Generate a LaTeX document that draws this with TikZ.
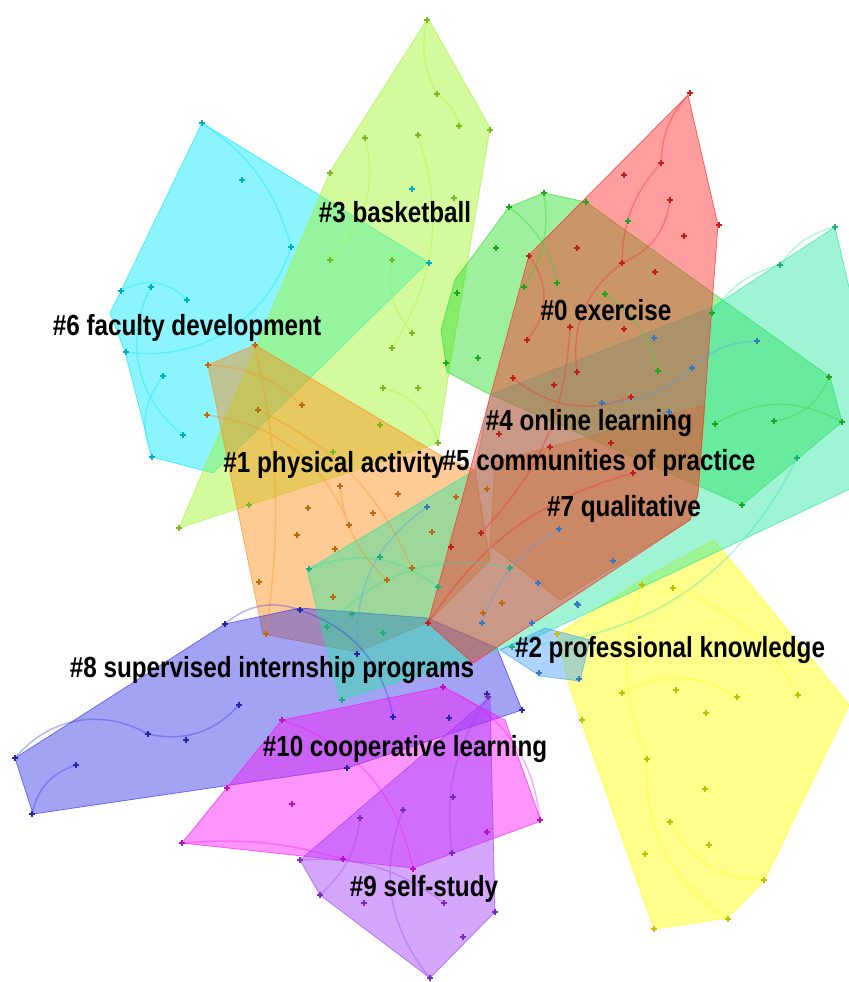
\documentclass[tikz,border=0pt]{standalone}
\usepackage{fontspec}
\setmainfont{Liberation Sans}
\usepackage{graphicx}
\usetikzlibrary{positioning}
\usetikzlibrary{math}

\definecolor{clred}{RGB}{255,40,40}
\definecolor{clorange}{RGB}{255,140,20}
\definecolor{clyellow}{RGB}{255,255,0}
\definecolor{cllime}{RGB}{160,245,40}
\definecolor{clgreen}{RGB}{40,220,40}
\definecolor{clmint}{RGB}{40,230,160}
\definecolor{clcyan}{RGB}{0,230,255}
\definecolor{cllblue}{RGB}{70,160,255}
\definecolor{clblue}{RGB}{50,50,230}
\definecolor{clpurple}{RGB}{160,60,250}
\definecolor{clmagenta}{RGB}{250,20,250}

% label text, a bit taller than wide
\newcommand{\cllabel}[1]{\scalebox{1}[1.2]{#1}}

\tikzset{
  hull/.style={fill=#1, fill opacity=0.45, draw=#1, draw opacity=0.7,
    line width=0.6pt, line join=round},
  link/.style={draw=#1, draw opacity=0.35, line width=1.3pt},
  cross/.style={draw=#1!75!black, line width=1.3pt},
  lbl/.style={font=\bfseries\fontsize{20.7}{24}\selectfont, inner sep=0pt}
}

\begin{document}
\begin{tikzpicture}[x=0.03cm, y=-0.03cm]

  \tikzmath{
    \arm = 3; % half length of a node cross
  }

  \useasboundingbox (0,0) rectangle (849,982);

  % cluster hulls
  \draw[hull=clcyan] (202,123) -- (428,262) -- (213,473) -- (152,457)
    -- (125,352) -- (110,313) -- (121,291) -- cycle;
  \draw[hull=cllime] (428,18) -- (490,128) -- (450,365) -- (438,443)
    -- (179,528) -- (330,172) -- cycle;
  \draw[hull=clgreen] (509,207) -- (544,193) -- (586,202) -- (830,377)
    -- (842,422) -- (742,505) -- (487,393) -- (447,372) -- (441,330)
    -- (455,280) -- cycle;
  \draw[hull=clyellow] (557,634) -- (644,578) -- (714,540) -- (849,705)
    -- (764,881) -- (727,918) -- (654,929) -- (581,721) -- (567,678) -- cycle;
  \draw[hull=clorange] (208,365) -- (255,345) -- (445,458) -- (475,470)
    -- (490,560) -- (427,623) -- (357,652) -- (263,634) -- cycle;
  \draw[hull=clorange] (495,462) -- (705,405) -- (698,495) -- (690,520)
    -- (560,600) -- (490,545) -- cycle;
  \draw[hull=clblue] (15,758) -- (33,814) -- (347,768) -- (522,710)
    -- (497,648) -- (427,618) -- (300,608) -- (225,624) -- cycle;
  \draw[hull=clmint] (835,227) -- (852,300) -- (852,488) -- (530,640)
    -- (340,700) -- (307,570) -- (475,470) -- (490,395) -- (713,307) -- cycle;
  \draw[hull=clred] (688,95) -- (718,225) -- (698,493) -- (690,520)
    -- (473,663) -- (428,623) -- (529,255) -- cycle;
  \draw[hull=cllblue] (500,650) -- (540,676) -- (580,681) -- (590,640)
    -- (545,628) -- cycle;
  \draw[hull=clmagenta] (182,843) -- (282,720) -- (443,687) -- (505,720)
    -- (541,821) -- (413,868) -- cycle;
  \draw[hull=clpurple] (300,860) -- (320,895) -- (430,978) -- (495,912)
    -- (490,697) -- cycle;

  % co-citation links
  \draw[link=cllime] (427,20) to[bend right=20] (437,94) to[bend left=20] (459,126)
    (365,138) to[bend left=30] (330,260) (418,135) to[bend left=25] (392,348)
    (392,260) to[bend right=25] (412,333) (383,388) to[bend left=30] (438,443);
  \draw[link=clcyan] (202,123) to[bend left=20] (291,247) to[bend left=40] (126,352)
    (121,291) to[bend left=40] (187,300) (163,376) to[bend right=30] (152,457)
    (151,287) to[bend right=40] (183,435);
  \draw[link=clred] (690,93) to[bend right=20] (661,163) to[bend right=20] (622,263)
    (670,200) to[bend left=30] (622,263) to[bend right=30] (577,372)
    (529,256) to[bend left=40] (527,340) (513,378) to[bend right=30] (631,397)
    (428,623) to[bend left=20] (633,473) (481,533) to[bend right=20] (570,327);
  \draw[link=clgreen] (509,207) to[bend left=20] (557,283) (544,193) to[bend left=20] (524,287)
    (605,294) to[bend left=20] (658,371) (715,424) to[bend left=30] (842,422)
    (774,421) to[bend right=30] (829,377);
  \draw[link=clmint] (835,227) to[bend right=20] (780,265) to[bend right=20] (713,312)
    (309,569) to[bend left=30] (438,587) (327,627) to[bend left=30] (510,568)
    (512,647) to[bend right=30] (797,458);
  \draw[link=clorange] (208,365) to[bend left=20] (302,405) (255,345) to[bend left=10] (266,634)
    (258,410) to[bend left=20] (412,568) (340,486) to[bend right=20] (387,580)
    (207,415) to[bend left=30] (349,525);
  \draw[link=clblue] (15,758) to[bend left=40] (148,734) to[bend right=30] (239,705)
    (32,814) to[bend left=30] (76,765) (225,624) to[bend left=30] (300,610)
    to[bend left=30] (393,717);
  \draw[link=cllblue] (427,507) to[bend right=30] (358,653) (559,529) to[bend right=20] (482,623)
    (602,403) to[bend right=20] (692,368) to[bend left=20] (757,341);
  \draw[link=clyellow] (642,585) to[bend right=20] (647,759) to[bend right=30] (728,919)
    (673,588) to[bend left=20] (798,695) (622,693) to[bend left=30] (737,697)
    (670,822) to[bend right=30] (764,880);
  \draw[link=clmagenta] (282,720) to[bend left=30] (413,869) (443,687) to[bend left=30] (540,820)
    (182,843) to[bend left=10] (343,859);
  \draw[link=clpurple] (488,697) to[bend right=20] (452,853) (360,818) to[bend left=20] (320,895)
    (403,810) to[bend right=30] (430,978) (300,860) to[bend left=20] (444,903);

  % member nodes
  \foreach \p in {(427,20),(437,94),(459,126),(490,130),(454,198),(365,138),
      (418,135),(330,173),(330,260),(392,260),(412,333),(392,348),(383,388),
      (418,388),(380,425),(333,452),(438,443),(249,505),(179,528)}
    \draw[cross=cllime] \p +(-\arm,0) -- +(\arm,0) +(0,-\arm) -- +(0,\arm);
  \foreach \p in {(202,123),(242,180),(291,247),(412,189),(429,263),(121,291),
      (151,287),(187,300),(126,352),(163,376),(183,435),(152,457)}
    \draw[cross=clcyan] \p +(-\arm,0) -- +(\arm,0) +(0,-\arm) -- +(0,\arm);
  \foreach \p in {(690,93),(661,163),(624,175),(670,200),(719,225),(684,236),
      (622,263),(655,272),(577,248),(529,256),(570,327),(624,329),(527,340),
      (513,378),(554,385),(577,372),(631,397),(499,434),(550,447),(611,443),
      (633,473),(481,533),(451,547),(428,623)}
    \draw[cross=clred] \p +(-\arm,0) -- +(\arm,0) +(0,-\arm) -- +(0,\arm);
  \foreach \p in {(509,207),(544,193),(586,202),(628,221),(496,248),(524,287),
      (557,283),(605,294),(457,293),(446,363),(478,358),(658,371),(712,313),
      (829,377),(842,422),(774,421),(715,424),(742,505)}
    \draw[cross=clgreen] \p +(-\arm,0) -- +(\arm,0) +(0,-\arm) -- +(0,\arm);
  \foreach \p in {(835,227),(780,265),(797,458),(380,557),(309,569),(438,587),
      (352,614),(327,627),(383,633),(510,568),(512,647),(342,700)}
    \draw[cross=clmint] \p +(-\arm,0) -- +(\arm,0) +(0,-\arm) -- +(0,\arm);
  \foreach \p in {(208,365),(255,345),(207,415),(258,410),(302,405),(340,486),
      (398,494),(456,497),(308,508),(373,513),(297,535),(349,525),(335,549),
      (432,532),(412,568),(387,580),(259,582),(333,597),(266,634),(487,489),
      (502,603),(483,613)}
    \draw[cross=clorange] \p +(-\arm,0) -- +(\arm,0) +(0,-\arm) -- +(0,\arm);
  \foreach \p in {(15,758),(32,814),(76,765),(148,734),(186,740),(239,705),
      (225,624),(300,610),(357,654),(347,768),(393,717),(449,718),(522,710),
      (487,694)}
    \draw[cross=clblue] \p +(-\arm,0) -- +(\arm,0) +(0,-\arm) -- +(0,\arm);
  \foreach \p in {(654,338),(757,341),(692,368),(602,403),(669,412),(559,529),
      (613,561),(538,583),(578,605),(482,623),(532,623),(539,673),(579,679),
      (577,604),(427,507)}
    \draw[cross=cllblue] \p +(-\arm,0) -- +(\arm,0) +(0,-\arm) -- +(0,\arm);
  \foreach \p in {(642,585),(673,588),(557,634),(622,693),(676,690),(737,697),
      (798,695),(706,713),(582,720),(647,759),(705,789),(670,822),(709,845),
      (645,854),(764,880),(728,919),(654,929)}
    \draw[cross=clyellow] \p +(-\arm,0) -- +(\arm,0) +(0,-\arm) -- +(0,\arm);
  \foreach \p in {(282,720),(443,687),(227,788),(292,804),(182,843),(343,859),
      (413,869),(487,832),(540,820)}
    \draw[cross=clmagenta] \p +(-\arm,0) -- +(\arm,0) +(0,-\arm) -- +(0,\arm);
  \foreach \p in {(488,697),(453,797),(403,810),(360,818),(452,853),(300,860),
      (320,895),(364,903),(444,903),(495,912),(463,937),(430,978)}
    \draw[cross=clpurple] \p +(-\arm,0) -- +(\arm,0) +(0,-\arm) -- +(0,\arm);

  % cluster labels
  \node[lbl] (c3) at (395,212) {\cllabel{\#3 basketball}};
  \node[lbl] (c6) at (187,328) {\cllabel{\#6 faculty development}};
  \node[lbl] (c0) at (606,310) {\cllabel{\#0 exercise}};
  \node[lbl] (c4) at (589,423) {\cllabel{\#4 online learning}};
  \node[lbl] (c1) at (334,465) {\cllabel{\#1 physical activity}};
  \node[lbl] (c5) at (599,463) {\cllabel{\#5 communities of practice}};
  \node[lbl] (c7) at (624,509) {\cllabel{\#7 qualitative}};
  \node[lbl] (c2) at (670,650) {\cllabel{\#2 professional knowledge}};
  \node[lbl] (c8) at (272,670) {\cllabel{\#8 supervised internship programs}};
  \node[lbl] (c10) at (405,749) {\cllabel{\#10 cooperative learning}};
  \node[lbl] (c9) at (424,889) {\cllabel{\#9 self-study}};

\end{tikzpicture}
\end{document}
